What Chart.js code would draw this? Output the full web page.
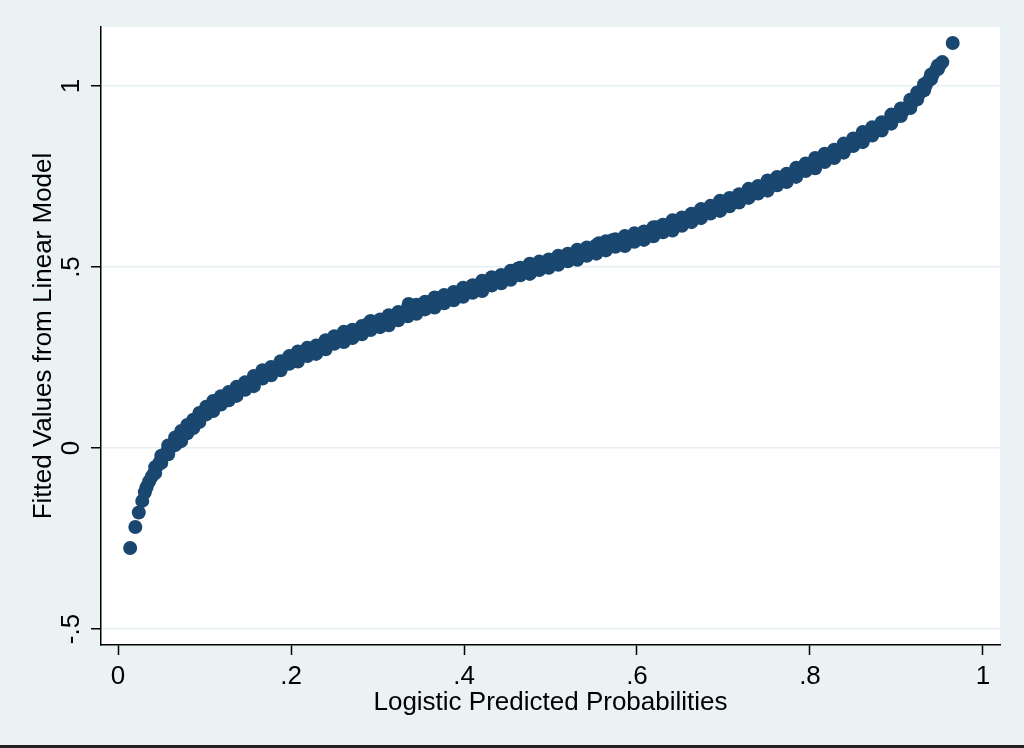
<!DOCTYPE html>
<html>
<head>
<meta charset="utf-8">
<script src="https://cdn.jsdelivr.net/npm/chart.js@4.4.1/dist/chart.umd.min.js"></script>
<style>
  html, body { margin: 0; padding: 0; background: #eaf2f3; }
  canvas { display: block; }
</style>
</head>
<body>
<canvas id="fit-chart" width="1024" height="748"></canvas>
<script>
// Logistic predicted probabilities (x) vs fitted values from linear model (y)
const xVals = [
  0.014, 0.020, 0.024, 0.028, 0.031, 0.033, 0.036, 0.039, 0.041, 0.045,
  0.048, 0.051, 0.054, 0.057, 0.060, 0.064, 0.067, 0.071, 0.074, 0.078,
  0.081, 0.085, 0.088, 0.092, 0.096, 0.100, 0.104, 0.108, 0.112, 0.117,
  0.121, 0.126, 0.130, 0.135, 0.140, 0.145, 0.150, 0.155, 0.160, 0.165,
  0.170, 0.175, 0.180, 0.186, 0.191, 0.196, 0.201, 0.206, 0.211, 0.216,
  0.222, 0.227, 0.232, 0.237, 0.242, 0.248, 0.253, 0.258, 0.263, 0.269,
  0.274, 0.279, 0.284, 0.290, 0.295, 0.300, 0.306, 0.311, 0.316, 0.322,
  0.327, 0.333, 0.336, 0.341, 0.347, 0.352, 0.358, 0.363, 0.369, 0.374,
  0.380, 0.385, 0.391, 0.396, 0.402, 0.407, 0.413, 0.418, 0.424, 0.429,
  0.435, 0.440, 0.446, 0.451, 0.457, 0.462, 0.468, 0.473, 0.479, 0.484,
  0.490, 0.495, 0.501, 0.506, 0.512, 0.517, 0.523, 0.528, 0.534, 0.539,
  0.545, 0.550, 0.556, 0.561, 0.567, 0.572, 0.578, 0.583, 0.589, 0.594,
  0.600, 0.605, 0.611, 0.616, 0.622, 0.627, 0.633, 0.638, 0.644, 0.649,
  0.655, 0.660, 0.666, 0.671, 0.677, 0.682, 0.688, 0.693, 0.699, 0.704,
  0.710, 0.715, 0.721, 0.726, 0.732, 0.737, 0.743, 0.748, 0.754, 0.759,
  0.765, 0.770, 0.776, 0.781, 0.787, 0.792, 0.798, 0.803, 0.809, 0.814,
  0.820, 0.825, 0.831, 0.836, 0.842, 0.847, 0.853, 0.858, 0.864, 0.869,
  0.875, 0.880, 0.886, 0.891, 0.897, 0.902, 0.908, 0.913, 0.918, 0.922,
  0.926, 0.930, 0.934, 0.938, 0.942, 0.946, 0.950, 0.953, 0.965,
];
const yVals = [
  -0.276, -0.218, -0.178, -0.146, -0.122, -0.108, -0.092, -0.079, -0.072, -0.050,
  -0.040, -0.027, -0.019, -0.008, 0.001, 0.012, 0.020, 0.027, 0.036, 0.047,
  0.055, 0.060, 0.071, 0.079, 0.088, 0.097, 0.109, 0.112, 0.121, 0.128,
  0.134, 0.141, 0.150, 0.152, 0.160, 0.168, 0.176, 0.180, 0.190, 0.201,
  0.206, 0.210, 0.220, 0.224, 0.232, 0.240, 0.247, 0.249, 0.258, 0.262,
  0.268, 0.265, 0.276, 0.281, 0.288, 0.300, 0.296, 0.305, 0.308, 0.312,
  0.318, 0.324, 0.330, 0.345, 0.336, 0.340, 0.348, 0.350, 0.356, 0.362,
  0.368, 0.376, 0.398, 0.380, 0.384, 0.392, 0.395, 0.400, 0.404, 0.410,
  0.413, 0.419, 0.422, 0.428, 0.432, 0.437, 0.440, 0.446, 0.450, 0.458,
  0.461, 0.465, 0.470, 0.474, 0.480, 0.495, 0.486, 0.492, 0.498, 0.500,
  0.505, 0.508, 0.514, 0.516, 0.520, 0.524, 0.528, 0.532, 0.536, 0.538,
  0.545, 0.548, 0.566, 0.556, 0.560, 0.575, 0.566, 0.570, 0.574, 0.578,
  0.583, 0.586, 0.590, 0.594, 0.610, 0.604, 0.608, 0.612, 0.628, 0.622,
  0.628, 0.634, 0.640, 0.645, 0.650, 0.656, 0.660, 0.666, 0.672, 0.676,
  0.682, 0.688, 0.694, 0.700, 0.705, 0.710, 0.716, 0.722, 0.728, 0.735,
  0.740, 0.744, 0.752, 0.758, 0.765, 0.772, 0.778, 0.783, 0.790, 0.798,
  0.805, 0.810, 0.818, 0.825, 0.830, 0.840, 0.848, 0.855, 0.862, 0.870,
  0.878, 0.886, 0.895, 0.903, 0.912, 0.922, 0.932, 0.942, 0.955, 0.966,
  0.978, 0.990, 1.003, 1.018, 1.032, 1.046, 1.058, 1.066, 1.119,
];

// Observations along the upper and lower edges of the band
const xBand = [
  0.043, 0.050, 0.058, 0.066, 0.073, 0.080, 0.087, 0.094, 0.102, 0.110,
  0.119, 0.128, 0.137, 0.147, 0.157, 0.167, 0.177, 0.188, 0.198, 0.208,
  0.219, 0.229, 0.240, 0.250, 0.261, 0.271, 0.282, 0.292, 0.303, 0.313,
  0.324, 0.335, 0.345, 0.355, 0.366, 0.377, 0.388, 0.399, 0.410, 0.421,
  0.432, 0.443, 0.454, 0.465, 0.476, 0.487, 0.498, 0.509, 0.520, 0.531,
  0.542, 0.553, 0.564, 0.575, 0.586, 0.597, 0.608, 0.619, 0.630, 0.641,
  0.652, 0.663, 0.674, 0.685, 0.696, 0.707, 0.718, 0.729, 0.740, 0.751,
  0.762, 0.773, 0.784, 0.795, 0.806, 0.817, 0.828, 0.839, 0.850, 0.861,
  0.872, 0.883, 0.894, 0.905, 0.916, 0.924, 0.932, 0.940, 0.948,
];
const yUpper = [
  -0.053, -0.021, 0.007, 0.029, 0.047, 0.064, 0.078, 0.097, 0.114, 0.130,
  0.143, 0.155, 0.169, 0.182, 0.199, 0.215, 0.224, 0.240, 0.254, 0.267,
  0.277, 0.283, 0.298, 0.309, 0.321, 0.327, 0.337, 0.351, 0.355, 0.367,
  0.376, 0.387, 0.396, 0.404, 0.416, 0.423, 0.431, 0.443, 0.450, 0.462,
  0.472, 0.478, 0.490, 0.498, 0.509, 0.515, 0.521, 0.531, 0.537, 0.548,
  0.554, 0.560, 0.571, 0.577, 0.586, 0.593, 0.598, 0.610, 0.617, 0.629,
  0.637, 0.647, 0.660, 0.669, 0.683, 0.691, 0.701, 0.716, 0.724, 0.739,
  0.749, 0.758, 0.774, 0.786, 0.801, 0.813, 0.824, 0.841, 0.855, 0.873,
  0.886, 0.900, 0.921, 0.938, 0.962, 0.982, 1.005, 1.032, 1.057,
];
const yLower = [
  -0.069, -0.041, -0.017, 0.008, 0.019, 0.041, 0.055, 0.072, 0.093, 0.102,
  0.120, 0.132, 0.144, 0.161, 0.171, 0.192, 0.201, 0.215, 0.233, 0.239,
  0.254, 0.260, 0.273, 0.288, 0.293, 0.304, 0.314, 0.326, 0.334, 0.339,
  0.353, 0.364, 0.371, 0.383, 0.388, 0.400, 0.408, 0.418, 0.429, 0.434,
  0.449, 0.455, 0.465, 0.477, 0.481, 0.492, 0.498, 0.506, 0.516, 0.520,
  0.531, 0.537, 0.546, 0.556, 0.558, 0.570, 0.575, 0.585, 0.596, 0.601,
  0.614, 0.624, 0.635, 0.648, 0.655, 0.668, 0.678, 0.691, 0.703, 0.711,
  0.726, 0.735, 0.749, 0.765, 0.773, 0.790, 0.801, 0.816, 0.834, 0.845,
  0.863, 0.877, 0.896, 0.917, 0.939, 0.963, 0.988, 1.019, 1.047,
];

const xTicks = [0, 0.2, 0.4, 0.6, 0.8, 1];
const yTicks = [-0.5, 0, 0.5, 1];

const fmtTick = (v) => (v === 0 ? '0' : String(v).replace('0.', '.'));
const font = '"Liberation Sans", Arial, Helvetica, sans-serif';

const points = xVals.map((x, i) => ({ x, y: yVals[i] }))
  .concat(xBand.map((x, i) => ({ x, y: yUpper[i] })))
  .concat(xBand.map((x, i) => ({ x, y: yLower[i] })));

// Stata-style backdrop: white plot region, rotated y tick labels, bottom frame line
const backdrop = {
  id: 'backdrop',
  beforeDraw: (chart) => {
    const { ctx, chartArea: a } = chart;
    ctx.save();
    ctx.fillStyle = '#eaf2f3';
    ctx.fillRect(0, 0, chart.width, chart.height);
    ctx.fillStyle = '#ffffff';
    ctx.fillRect(a.left, a.top, a.right - a.left, a.bottom - a.top);
    ctx.restore();
  },
  afterDraw: (chart) => {
    const { ctx } = chart;
    const yScale = chart.scales.y;
    ctx.save();
    ctx.fillStyle = '#000000';
    ctx.font = `26px ${font}`;
    ctx.textAlign = 'center';
    ctx.textBaseline = 'middle';
    for (const t of yScale.ticks) {
      ctx.save();
      ctx.translate(72, yScale.getPixelForValue(t.value));
      ctx.rotate(-Math.PI / 2);
      ctx.fillText(fmtTick(t.value), 0, 0);
      ctx.restore();
    }
    ctx.fillStyle = '#222222';
    ctx.fillRect(0, 745, chart.width, 3);
    ctx.restore();
  },
};

const ctX = document.getElementById('fit-chart');

// eslint-disable-next-line no-undef, no-unused-vars
const chart = new Chart(ctX, {
  type: 'scatter',
  data: {
    datasets: [{
      data: points,
      backgroundColor: '#1a476f',
      borderWidth: 0,
      pointRadius: 7,
    }],
  },
  options: {
    responsive: false,
    animation: false,
    devicePixelRatio: 1,
    layout: {
      padding: { left: 0, top: 27, right: 24, bottom: 0 },
    },
    plugins: {
      legend: { display: false },
      tooltip: { enabled: false },
    },
    scales: {
      x: {
        type: 'linear',
        min: -0.0197,
        max: 1.0197,
        afterBuildTicks: (scale) => {
          scale.ticks = xTicks.map((v) => ({ value: v }));
        },
        afterFit: (scale) => {
          scale.height = 103;
        },
        border: { color: '#000000', width: 1.5 },
        grid: {
          drawOnChartArea: false,
          drawTicks: true,
          tickLength: 10,
          tickColor: '#000000',
          tickWidth: 1.5,
        },
        ticks: {
          color: '#000000',
          padding: 6,
          maxRotation: 0,
          font: { family: font, size: 26 },
          callback: (v) => fmtTick(v),
        },
        title: {
          display: true,
          text: 'Logistic Predicted Probabilities',
          color: '#000000',
          font: { family: font, size: 26 },
          padding: { top: 0, bottom: 30 },
        },
      },
      y: {
        type: 'linear',
        min: -0.544,
        max: 1.163,
        afterBuildTicks: (scale) => {
          scale.ticks = yTicks.map((v) => ({ value: v }));
        },
        afterFit: (scale) => {
          scale.width = 101;
        },
        border: { color: '#000000', width: 1.5 },
        grid: {
          color: '#e6eff1',
          lineWidth: 1.5,
          drawTicks: true,
          tickLength: 10,
          tickColor: '#000000',
          tickWidth: 1.5,
        },
        ticks: {
          display: false,
        },
        title: {
          display: true,
          text: 'Fitted Values from Linear Model',
          color: '#000000',
          font: { family: font, size: 26 },
          padding: { top: 28, bottom: 0 },
        },
      },
    },
  },
  plugins: [backdrop],
});
</script>
</body>
</html>
